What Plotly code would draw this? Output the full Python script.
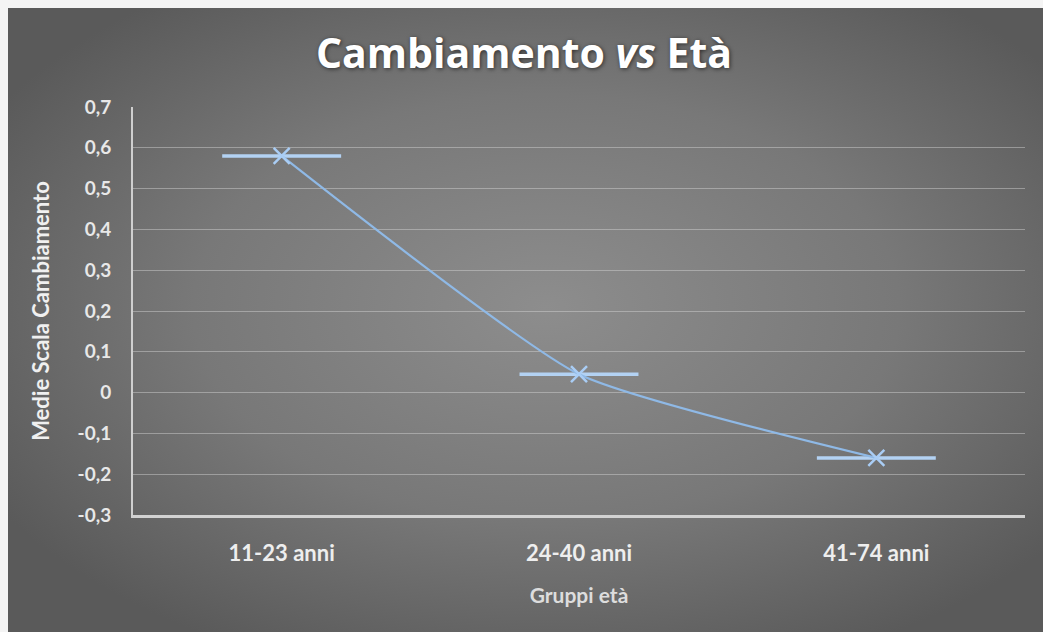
import base64
import plotly.graph_objects as go

# Age groups and the mean score on the change scale
age_groups = ["11-23 anni", "24-40 anni", "41-74 anni"]
mean_change = [0.58, 0.045, -0.16]
bar_halfwidth = [0.2, 0.2, 0.2]  # half-width of the horizontal bar at each point (category units)

y_tick_values = [-0.3, -0.2, -0.1, 0, 0.1, 0.2, 0.3, 0.4, 0.5, 0.6, 0.7]
y_tick_labels = ["-0,3", "-0,2", "-0,1", "0", "0,1", "0,2", "0,3", "0,4", "0,5", "0,6", "0,7"]

x_pos = list(range(len(age_groups)))

FONT = "Lato"
TITLE_FONT = "Open Sans"
W, H = 1043, 632
L, R, T, B = 133, 18, 107, 117
plot_w = W - L - R
plot_h = H - T - B

# Grey radial-gradient backdrop drawn as an SVG image behind the chart
bg_left, bg_top = 8, 8
bg_w, bg_h = W - bg_left, H - bg_top
svg = (
    f'<svg xmlns="http://www.w3.org/2000/svg" width="{bg_w}" height="{bg_h}" '
    f'viewBox="0 0 {bg_w} {bg_h}" preserveAspectRatio="none">'
    '<defs><radialGradient id="g" cx="52%" cy="48%" r="62%">'
    '<stop offset="0" stop-color="#8d8d8d"/>'
    '<stop offset="0.55" stop-color="#787878"/>'
    '<stop offset="1" stop-color="#5a5a5a"/>'
    '</radialGradient></defs>'
    f'<rect x="0" y="0" width="{bg_w}" height="{bg_h}" fill="url(#g)"/></svg>'
)
svg_uri = "data:image/svg+xml;base64," + base64.b64encode(svg.encode()).decode()

fig = go.Figure()

fig.add_trace(go.Scatter(
    x=x_pos,
    y=mean_change,
    mode="lines+markers",
    line=dict(color="#8fb9e6", width=2.2, shape="spline", smoothing=0.5),
    marker=dict(symbol="x-thin-open", size=16, color="#a9cdf5",
                line=dict(color="#a9cdf5", width=2.5)),
    error_x=dict(type="data", array=bar_halfwidth, symmetric=True,
                 color="#b3d2f3", thickness=3.5, width=0),
    showlegend=False,
    hoverinfo="skip",
))

fig.update_layout(
    width=W, height=H,
    margin=dict(l=L, r=R, t=T, b=B),
    paper_bgcolor="#f4f4f4",
    plot_bgcolor="rgba(0,0,0,0)",
    separators=", ",
    title=dict(
        text="Cambiamento <i>vs</i> Età",
        x=(524 - L) / plot_w, xref="paper", xanchor="center",
        y=1 - 54 / H, yanchor="middle",
        font=dict(family=TITLE_FONT, size=41, color="#ffffff", weight="bold",
                  shadow="1px 1px 4px rgba(0,0,0,0.6)"),
    ),
    images=[dict(
        source=svg_uri, xref="paper", yref="paper",
        x=(bg_left - L) / plot_w, y=1 + (T - bg_top) / plot_h,
        sizex=bg_w / plot_w, sizey=bg_h / plot_h,
        xanchor="left", yanchor="top", sizing="stretch", layer="below",
    )],
    xaxis=dict(
        range=[-0.5, len(age_groups) - 0.5],
        tickmode="array", tickvals=x_pos, ticktext=age_groups,
        showgrid=False, zeroline=False,
        showline=True, linecolor="#d2d2d2", linewidth=2.5,
        ticks="", ticklabelstandoff=17,
        tickfont=dict(family=FONT, size=22, color="#eeeeee", weight="bold"),
        title=dict(text="Gruppi età", standoff=24,
                   font=dict(family=FONT, size=21, color="#dddddd", weight="bold")),
    ),
    yaxis=dict(
        range=[-0.3, 0.7],
        tickmode="array", tickvals=y_tick_values, ticktext=y_tick_labels,
        showgrid=True, gridcolor="rgba(215,215,215,0.45)", gridwidth=1,
        zeroline=False,
        showline=True, linecolor="#cfcfcf", linewidth=2,
        ticks="", ticklabelstandoff=16,
        tickfont=dict(family=FONT, size=19, color="#e8e8e8", weight="bold"),
        title=dict(text="Medie Scala Cambiamento", standoff=22,
                   font=dict(family=FONT, size=22, color="#f0f0f0", weight="bold")),
    ),
)

fig.write_html("out.html")
